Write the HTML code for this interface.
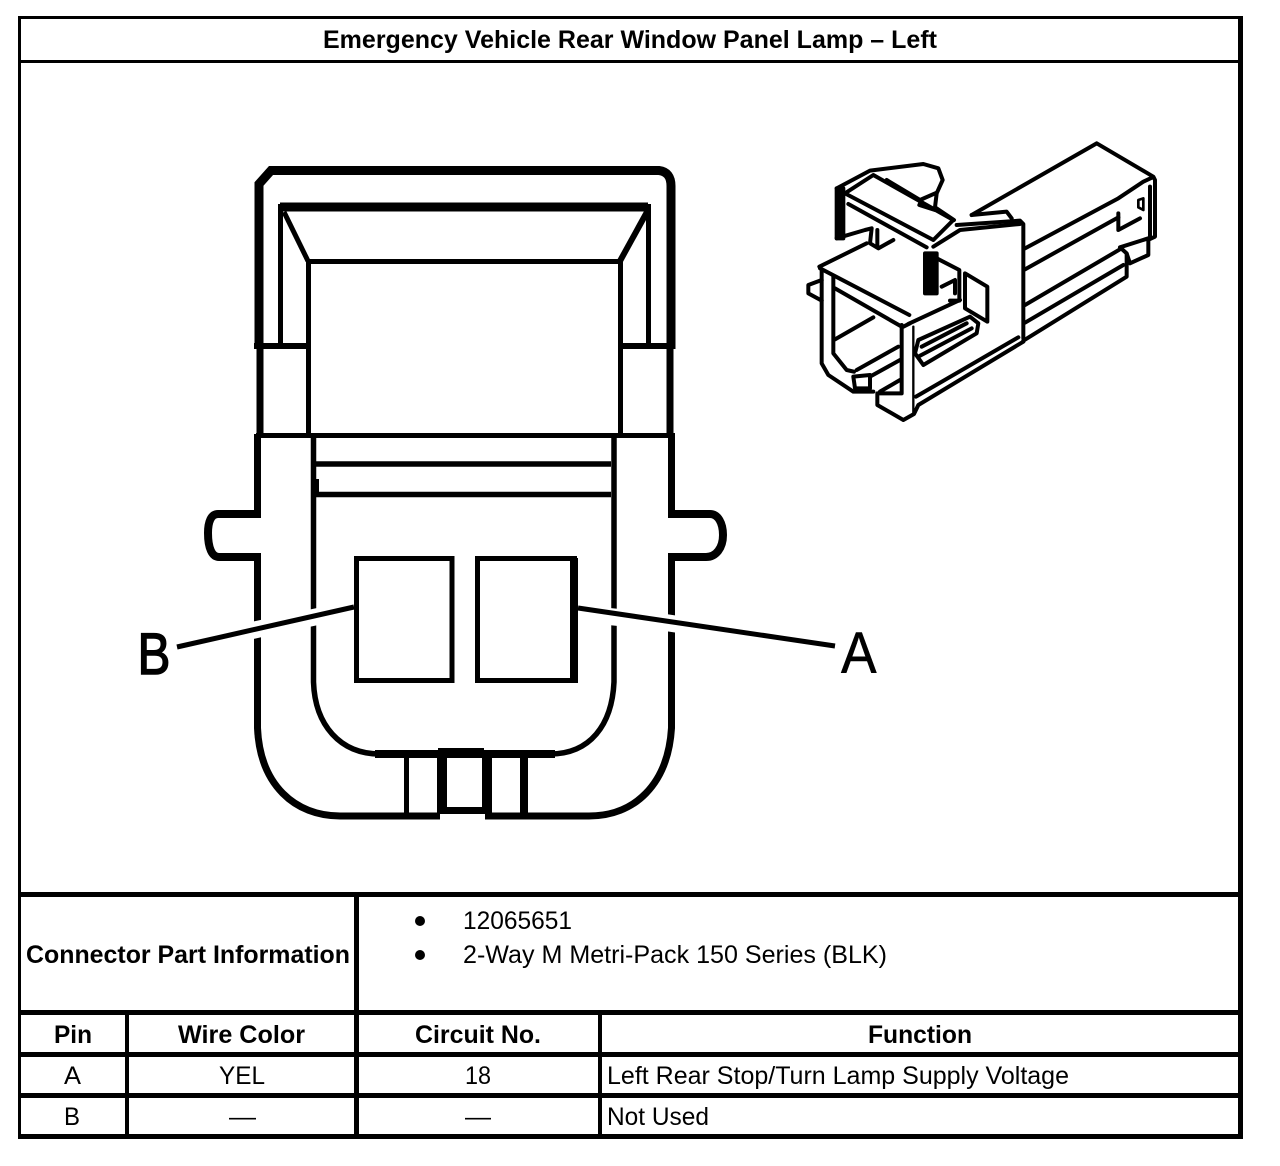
<!DOCTYPE html>
<html>
<head>
<meta charset="utf-8">
<title>Emergency Vehicle Rear Window Panel Lamp – Left</title>
<style>
html,body{margin:0;padding:0;background:#fff;}
svg{display:block;}
text{font-family:"Liberation Sans",Arial,sans-serif;fill:#000;}
.b{font-weight:bold;}
</style>
</head>
<body>
<svg width="1280" height="1166" viewBox="0 0 1280 1166" xmlns="http://www.w3.org/2000/svg">
<rect width="1280" height="1166" fill="#fff"/>

<!-- table frame -->
<g fill="#000" shape-rendering="crispEdges">
<rect x="18" y="16" width="1225" height="3"/>
<rect x="18" y="16" width="3" height="1123"/>
<rect x="1238" y="16" width="5" height="1123"/>
<rect x="18" y="1134" width="1225" height="5"/>
<rect x="18" y="60" width="1225" height="3"/>
<rect x="18" y="892" width="1225" height="5"/>
<rect x="18" y="1010" width="1225" height="5"/>
<rect x="18" y="1052" width="1225" height="5"/>
<rect x="18" y="1093" width="1225" height="5"/>
<rect x="354" y="892" width="5" height="247"/>
<rect x="125" y="1010" width="4" height="129"/>
<rect x="598" y="1010" width="4" height="129"/>
</g>

<!-- text -->
<text class="b" x="323" y="48" font-size="25" textLength="614" lengthAdjust="spacingAndGlyphs">Emergency Vehicle Rear Window Panel Lamp – Left</text>
<text class="b" x="26" y="963" font-size="25" textLength="324" lengthAdjust="spacingAndGlyphs">Connector Part Information</text>
<circle cx="420" cy="921" r="5" fill="#000"/>
<circle cx="420" cy="955" r="5" fill="#000"/>
<text x="463" y="929" font-size="25" textLength="109" lengthAdjust="spacingAndGlyphs">12065651</text>
<text x="463" y="963" font-size="25" textLength="424" lengthAdjust="spacingAndGlyphs">2-Way M Metri-Pack 150 Series (BLK)</text>
<text class="b" x="54" y="1043" font-size="25" textLength="38" lengthAdjust="spacingAndGlyphs">Pin</text>
<text class="b" x="178" y="1043" font-size="25" textLength="127" lengthAdjust="spacingAndGlyphs">Wire Color</text>
<text class="b" x="415" y="1043" font-size="25" textLength="126" lengthAdjust="spacingAndGlyphs">Circuit No.</text>
<text class="b" x="868" y="1043" font-size="25" textLength="104" lengthAdjust="spacingAndGlyphs">Function</text>
<text x="64" y="1084" font-size="25" textLength="17" lengthAdjust="spacingAndGlyphs">A</text>
<text x="219" y="1084" font-size="25" textLength="46" lengthAdjust="spacingAndGlyphs">YEL</text>
<text x="465" y="1084" font-size="25" textLength="26" lengthAdjust="spacingAndGlyphs">18</text>
<text x="607" y="1084" font-size="25" textLength="462" lengthAdjust="spacingAndGlyphs">Left Rear Stop/Turn Lamp Supply Voltage</text>
<text x="64" y="1125" font-size="25" textLength="16" lengthAdjust="spacingAndGlyphs">B</text>
<text x="229" y="1125" font-size="25" textLength="27" lengthAdjust="spacingAndGlyphs">—</text>
<text x="465" y="1125" font-size="25" textLength="26" lengthAdjust="spacingAndGlyphs">—</text>
<text x="607" y="1125" font-size="25" textLength="102" lengthAdjust="spacingAndGlyphs">Not Used</text>

<!-- connector face -->
<g fill="none" stroke="#000" stroke-linejoin="miter">
  <!-- upper shroud outer -->
  <path d="M259 349 V184 L271 170.500 H659 Q671 172 671 186 V349" stroke-width="9"/>
  <!-- inner frame -->
  <path d="M280.500 343 V206.500 H648.500 V343" stroke-width="5"/>
  <path d="M280 207 H648" stroke-width="9"/>
  <path d="M284 212 L308 261" stroke-width="5"/>
  <path d="M647 212 L620 261" stroke-width="6"/>
  <path d="M308.500 436 V261.500 H620.500 V436" stroke-width="5"/>
  <!-- cross bars -->
  <path d="M254 346 H308 M621 346 H675" stroke-width="6"/>
  <path d="M260 349 V434 M670 349 V434" stroke-width="7"/>
  <path d="M256 435.500 H675" stroke-width="5"/>
  <path d="M316 464 H611 M316 494.500 H611" stroke-width="5.500"/>
  <path d="M317.500 479 V497" stroke-width="3"/>
  <!-- lower walls with tabs and U -->
  <path d="M257.500 434 V518 M257.500 553 V728 C260 785 295 816 340 816 H440 M485 816 H589 C634 816 668 785 671.500 728 V553 M671.500 518 V434" stroke-width="7"/>
  <path d="M313.500 434 V682 C315 725 340 754 380 754 M614 434 V682 C612 725 590 754 550 754" stroke-width="5.500"/>
  <path d="M375 754 H555" stroke-width="8"/>
  <path d="M254 514 H218 C211 514 208 522 208 533 C208 548 212 557 219 557 H254" stroke-width="8"/>
  <path d="M675 514 H710 C718 514 723 523 723 535 C723 548 716 557 706 557 H675" stroke-width="8"/>
  <!-- key blocks -->
  <path d="M406.500 758 V813" stroke-width="5"/>
  <path d="M442 758 V814 M487 758 V814" stroke-width="10"/>
  <path d="M438 750.500 H484" stroke-width="5"/>
  <path d="M438 810.500 H490" stroke-width="7"/>
  <path d="M524 758 V814" stroke-width="8"/>
  <!-- pins -->
  <rect x="356.500" y="558.500" width="95.500" height="122" stroke-width="5"/>
  <rect x="477.500" y="558.500" width="97" height="122" stroke-width="5"/>
  <path d="M574 558 V683" stroke-width="8"/>
  <!-- leader gaps + leaders -->
  <path d="M250 631 L268 627 M306 619 L320 616" stroke="#fff" stroke-width="17"/>
  <path d="M604 616 L624 618 M662 622 L682 625" stroke="#fff" stroke-width="17"/>
  <path d="M177 647 L354 607" stroke-width="5"/>
  <path d="M578 608 L835 646" stroke-width="5"/>
</g>
<text transform="translate(137.500 674) scale(0.85 1)" font-size="58" stroke="#000" stroke-width="1.500">B</text>
<text transform="translate(841 673) scale(0.92 1)" font-size="58" stroke="#000" stroke-width="0.500">A</text>

<!-- isometric connector -->
<g transform="translate(790 130) scale(0.33333)" fill="none" stroke="#000" stroke-width="12" stroke-linejoin="round" stroke-linecap="round">
  <!-- rear body -->
  <path d="M545 255 L920 40 L1090 140 L1095 150 V320 L1078 328"/>
  <path d="M705 355 L985 205 L1060 155 L1088 142"/>
  <path d="M705 418 L985 262"/>
  <path d="M985 250 V300 L1050 265"/>
  <path d="M1045 210 L1060 205 L1060 240 L1045 232 Z" stroke-width="8"/>
  <path d="M1080 170 V320"/>
  <path d="M990 352 L1075 325 V375 L1020 400 L1010 370 L990 352"/>
  <path d="M705 525 L995 355"/>
  <path d="M705 578 L1000 405"/>
  <path d="M1010 372 V440 L700 632"/>
  <!-- top latch -->
  <path d="M140 175 L240 122 L400 102 L445 115 L458 150 L440 190 L435 232 L492 270"/>
  <path d="M165 190 L250 135 L490 270 L430 330 L165 190"/>
  <path d="M290 150 L390 210 L440 188"/>
  <path d="M395 210 L388 225 L435 240"/>
  <path d="M175 222 L410 352"/>
  <path d="M140 175 H160 V325 H140 Z" fill="#000"/>
  <path d="M140 325 L225 300 L245 295 L240 340 L265 355 L310 330"/>
  <path d="M262 300 V350"/>
  <!-- centre wall -->
  <path d="M500 285 L690 272 L700 282 V625"/>
  <path d="M545 255 L650 245 L665 265"/>
  <path d="M430 350 L510 300 L690 282"/>
  <path d="M405 370 H440 V490 H405 Z" fill="#000"/>
  <path d="M440 385 L508 420 V512 L480 512"/>
  <path d="M455 470 L495 450 V490"/>
  <path d="M525 430 L592 470 V575 L525 535 Z"/>
  <!-- front opening -->
  <path d="M88 410 L230 340"/>
  <path d="M90 415 L358 555"/>
  <path d="M355 582 L510 510"/>
  <path d="M135 475 L335 590"/>
  <path d="M130 440 V670 L170 720 L192 725"/>
  <path d="M135 628 L250 562"/>
  <path d="M95 420 V700 L115 735 L190 785 H250"/>
  <path d="M95 450 L55 465 V490 L95 512"/>
  <path d="M335 585 V790 H262 V825 L340 870 L372 852 L385 825 L700 635"/>
  <path d="M370 590 V850" stroke-width="7"/>
  <path d="M340 590 L360 580"/>
  <path d="M200 720 L325 650"/>
  <path d="M190 740 L240 735 V775 H195 Z"/>
  <path d="M240 740 L330 690"/>
  <path d="M270 785 L330 750"/>
  <!-- slot -->
  <path d="M385 630 L540 560 L565 580 L560 610 L400 705 L375 670 Z"/>
  <path d="M395 650 L530 580"/>
  <path d="M385 680 L545 595"/>
  <path d="M378 800 L685 622"/>
</g>
</svg>
</body>
</html>
